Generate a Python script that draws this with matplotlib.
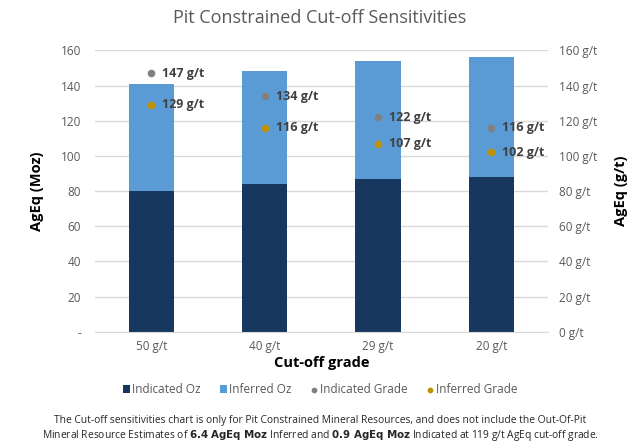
import numpy as np
import matplotlib.pyplot as plt

plt.rcParams['font.family'] = ['Open Sans', 'DejaVu Sans']

# data
cutoffs = ['50 g/t', '40 g/t', '29 g/t', '20 g/t']
indicated_oz = [80, 84, 87, 88]
total_oz = [141, 148, 154, 156]
inferred_oz = [t - i for t, i in zip(total_oz, indicated_oz)]
indicated_grade = [147, 134, 122, 116]
inferred_grade = [129, 116, 107, 102]

c_ind = '#17375E'
c_inf = '#5B9BD5'
c_ind_g = '#808080'
c_inf_g = '#BF9000'
txt = '#595959'

fig = plt.figure(figsize=(6.4, 4.48), dpi=100)
ax = fig.add_axes([0.148, 0.2596, 0.708, 0.628])
ax2 = ax.twinx()

x = np.arange(len(cutoffs))
ax.bar(x, indicated_oz, width=0.4, color=c_ind, label='Indicated Oz', zorder=2)
ax.bar(x, inferred_oz, width=0.4, bottom=indicated_oz, color=c_inf,
       label='Inferred Oz', zorder=2)

ax2.scatter(x, indicated_grade, s=20, color=c_ind_g, label='Indicated Grade', zorder=3)
ax2.scatter(x, inferred_grade, s=20, color=c_inf_g, label='Inferred Grade', zorder=3)
for xi, g in zip(x, indicated_grade):
    ax2.annotate(f'{g} g/t', (xi, g), xytext=(8, 0), textcoords='offset points',
                 va='center', fontsize=9, fontweight='bold', color='#404040')
for xi, g in zip(x, inferred_grade):
    ax2.annotate(f'{g} g/t', (xi, g), xytext=(8, 0), textcoords='offset points',
                 va='center', fontsize=9, fontweight='bold', color='#404040')

ax.set_xlim(-0.5, 3.5)
ax.set_ylim(0, 160)
ax2.set_ylim(0, 160)
yt = np.arange(0, 161, 20)
ax.set_yticks(yt)
ax.set_yticklabels(['-'] + [str(v) for v in yt[1:]])
ax2.set_yticks(yt)
ax2.set_yticklabels([f'{v} g/t' for v in yt])
ax.set_xticks(x)
ax.set_xticklabels(cutoffs)

ax.grid(axis='y', color='#D9D9D9', lw=1, zorder=0)
ax.set_axisbelow(True)
for a in (ax, ax2):
    for s in a.spines.values():
        s.set_visible(False)
    a.tick_params(length=0, labelsize=8.5, labelcolor=txt)
ax.spines['bottom'].set_visible(True)
ax.spines['bottom'].set_color('#D9D9D9')
ax.tick_params(axis='y', pad=10)
ax.tick_params(axis='x', pad=6)
ax2.tick_params(axis='y', pad=8)

ax.set_ylabel('AgEq (Moz)', fontsize=10.5, fontweight='bold', labelpad=12)
ax2.set_ylabel('AgEq (g/t)', fontsize=10.5, fontweight='bold', labelpad=12)
ax.set_xlabel('Cut-off grade', fontsize=10.5, fontweight='bold', labelpad=2)

fig.text(0.5, 0.96, 'Pit Constrained Cut-off Sensitivities', ha='center',
         va='center', fontsize=13, color=txt)

h1, l1 = ax.get_legend_handles_labels()
h2, l2 = ax2.get_legend_handles_labels()
fig.legend(h1 + h2, l1 + l2, loc='center', bbox_to_anchor=(0.5, 0.131), ncol=4,
           frameon=False, fontsize=8.5, labelcolor=txt, handlelength=0.6,
           handletextpad=0.2, columnspacing=1.6, markerscale=0.7)

fig.text(0.5, 0.043,
         'The Cut-off sensitivities chart is only for Pit Constrained Mineral Resources, '
         'and does not include the Out-Of-Pit\n'
         'Mineral Resource Estimates of $\\bf{6.4\\ AgEq\\ Moz}$ Inferred and '
         '$\\bf{0.9\\ AgEq\\ Moz}$ Indicated at 119 g/t AgEq cut-off grade.',
         ha='center', va='center', fontsize=7.4, color='#262626', linespacing=1.2)

fig.savefig('out.png', dpi=100)
